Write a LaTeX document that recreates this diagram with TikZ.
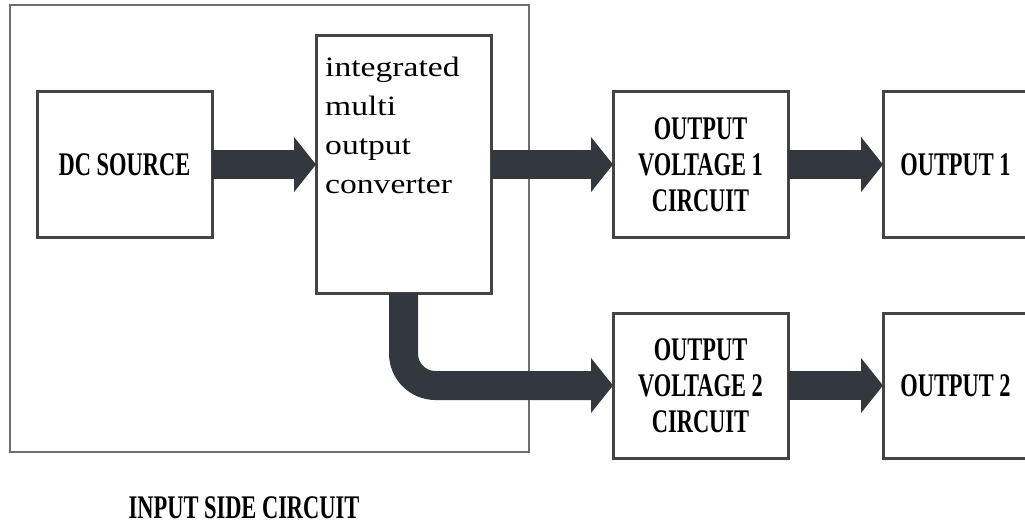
\documentclass[tikz,border=0pt]{standalone}
\usepackage{fontspec}
\setmainfont{Liberation Serif}
\newfontfamily\capsfont[FakeStretch=0.68]{Liberation Serif Bold}
\newfontfamily\convfont[FakeStretch=1.2]{Liberation Serif}
\definecolor{boxgray}{RGB}{68,68,68}
\definecolor{framegray}{RGB}{110,110,110}
\definecolor{arrowdark}{RGB}{50,56,62}
\usetikzlibrary{arrows.meta,positioning}

\begin{document}
\begin{tikzpicture}[x=1pt, y=1pt,
        box/.style={rectangle, draw=boxgray, line width=3pt, fill=white,
                    minimum width=175pt, minimum height=145pt,
                    inner sep=0pt, outer sep=0pt, align=center,
                    font=\capsfont\fontsize{33}{36}\selectfont},
        flow/.style={-{Triangle[length=22pt,width=54pt]}, line width=29pt, arrowdark}
    ]
        \useasboundingbox (0,0) rectangle (1025,-524);

        % input side frame
        \node[draw=framegray, line width=2.5pt, inner sep=0pt,
              minimum width=519pt, minimum height=447pt] (inside) at (269.5,-228.5) {};

        \node[box] (dcs) at (124.5,-164.5) {DC SOURCE};
        \node[box, minimum height=257pt, right=104pt of dcs] (conv) {};
        \node[anchor=north west, inner sep=0pt, align=left,
              font=\convfont\fontsize{28}{39}\selectfont] (convtext)
              at ([xshift=9pt, yshift=-21pt]conv.north west)
              {integrated\\multi\\output\\converter};

        \node[box, right=122pt of conv] (ov1) {OUTPUT\\VOLTAGE 1\\CIRCUIT};
        \node[box, below=76pt of ov1]   (ov2) {OUTPUT\\VOLTAGE 2\\CIRCUIT};
        \node[box, minimum width=145pt, right=95pt of ov1] (out1) {OUTPUT 1};
        \node[box, minimum width=145pt, right=95pt of ov2] (out2) {OUTPUT 2};

        \node[inner sep=0pt, font=\capsfont\fontsize{33}{36}\selectfont] (title)
              at (244,-508) {INPUT SIDE CIRCUIT};

        \draw[flow] (dcs.east) -- (conv.west);
        \draw[flow] (conv.east |- ov1.west) -- (ov1.west);
        \draw[flow, rounded corners=32pt] (conv.south) |- (ov2.west);
        \draw[flow] (ov1.east) -- (out1.west);
        \draw[flow] (ov2.east) -- (out2.west);
    \end{tikzpicture}
\end{document}
